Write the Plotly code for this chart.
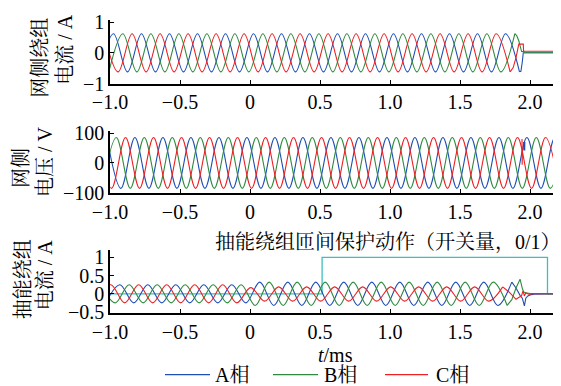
import plotly.graph_objects as go

# ---------------- data ----------------
x_tickvals = [-1.0, -0.5, 0, 0.5, 1.0, 1.5, 2.0]
x_ticktext = ["\u22121.0", "\u22120.5", "0", "0.5", "1.0", "1.5", "2.0"]

# Panel 1: grid-side winding current (A) - extrema of each phase
i1_A_t = [-1.075, -0.975, -0.875, -0.775, -0.675, -0.575, -0.475, -0.375, -0.275, -0.175, -0.075,
          0.025, 0.125, 0.225, 0.325, 0.425, 0.525, 0.625, 0.725, 0.825, 0.925, 1.025, 1.125,
          1.225, 1.325, 1.425, 1.525, 1.625, 1.725, 1.825, 1.925]
i1_A_v = [-0.62, 0.62, -0.62, 0.62, -0.62, 0.62, -0.62, 0.62, -0.62, 0.62, -0.62,
          0.62, -0.62, 0.62, -0.62, 0.62, -0.62, 0.62, -0.62, 0.62, -0.62, 0.62, -0.62,
          0.62, -0.62, 0.62, -0.62, 0.62, -0.62, 0.62, -0.62]
i1_B_t = [-1.008, -0.908, -0.808, -0.708, -0.608, -0.508, -0.408, -0.308, -0.208, -0.108, -0.008,
          0.092, 0.192, 0.292, 0.392, 0.492, 0.592, 0.692, 0.792, 0.892, 0.992, 1.092, 1.192,
          1.292, 1.392, 1.492, 1.592, 1.692, 1.792, 1.892]
i1_B_v = [-0.62, 0.62, -0.62, 0.62, -0.62, 0.62, -0.62, 0.62, -0.62, 0.62, -0.62,
          0.62, -0.62, 0.62, -0.62, 0.62, -0.62, 0.62, -0.62, 0.62, -0.62, 0.62, -0.62,
          0.62, -0.62, 0.62, -0.62, 0.62, -0.62, 0.62]
i1_C_t = [-1.042, -0.942, -0.842, -0.742, -0.642, -0.542, -0.442, -0.342, -0.242, -0.142, -0.042,
          0.058, 0.158, 0.258, 0.358, 0.458, 0.558, 0.658, 0.758, 0.858, 0.958, 1.058, 1.158,
          1.258, 1.358, 1.458, 1.558, 1.658, 1.758, 1.858]
i1_C_v = [0.62, -0.62, 0.62, -0.62, 0.62, -0.62, 0.62, -0.62, 0.62, -0.62, 0.62,
          -0.62, 0.62, -0.62, 0.62, -0.62, 0.62, -0.62, 0.62, -0.62, 0.62, -0.62, 0.62,
          -0.62, 0.62, -0.62, 0.62, -0.62, 0.62, -0.62]
# transient after the trip
i1_A_tr_t = [1.925, 1.935, 1.945, 1.952, 2.3]
i1_A_tr_v = [-0.62, -0.6, -0.3, 0.0, 0.0]
i1_B_tr_t = [1.892, 1.905, 1.92, 1.935, 1.94, 1.955, 1.96, 2.3]
i1_B_tr_v = [0.62, 0.56, 0.39, 0.1, 0.04, 0.04, 0.0, 0.0]
i1_C_tr_t = [1.858, 1.88, 1.9, 1.915, 1.92, 1.952, 1.954, 2.3]
i1_C_tr_v = [-0.62, -0.48, -0.16, 0.2, 0.28, 0.28, 0.05, 0.05]

# Panel 2: grid-side voltage (V)
u_A_t = [-1.022, -0.922, -0.822, -0.722, -0.622, -0.522, -0.422, -0.322, -0.222, -0.122, -0.022,
         0.078, 0.178, 0.278, 0.378, 0.478, 0.578, 0.678, 0.778, 0.878, 0.978, 1.078, 1.178,
         1.278, 1.378, 1.478, 1.578, 1.678, 1.778, 1.878, 1.978, 2.078, 2.178, 2.278]
u_A_v = [85, -85, 85, -85, 85, -85, 85, -85, 85, -85, 85,
         -85, 85, -85, 85, -85, 85, -85, 85, -85, 85, -85, 85,
         -85, 85, -85, 85, -85, 85, -85, 85, -85, 85, -85]
u_B_t = [-1.055, -0.955, -0.855, -0.755, -0.655, -0.555, -0.455, -0.355, -0.255, -0.155, -0.055,
         0.045, 0.145, 0.245, 0.345, 0.445, 0.545, 0.645, 0.745, 0.845, 0.945, 1.045, 1.145,
         1.245, 1.345, 1.445, 1.545, 1.645, 1.745, 1.845, 1.945, 2.045, 2.145, 2.245]
u_B_v = [-85, 85, -85, 85, -85, 85, -85, 85, -85, 85, -85,
         85, -85, 85, -85, 85, -85, 85, -85, 85, -85, 85, -85,
         85, -85, 85, -85, 85, -85, 85, -85, 85, -85, 85]
u_C_t = [-1.089, -0.989, -0.889, -0.789, -0.689, -0.589, -0.489, -0.389, -0.289, -0.189, -0.089,
         0.011, 0.111, 0.211, 0.311, 0.411, 0.511, 0.611, 0.711, 0.811, 0.911, 1.011, 1.111,
         1.211, 1.311, 1.411, 1.511, 1.611, 1.711, 1.811, 1.911, 2.011, 2.111, 2.211]
u_C_v = [85, -85, 85, -85, 85, -85, 85, -85, 85, -85, 85,
         -85, 85, -85, 85, -85, 85, -85, 85, -85, 85, -85, 85,
         -85, 85, -85, 85, -85, 85, -85, 85, -85, 85, -85]
# glitches at the trip instant
u_C_gl_t = [1.943, 1.944, 1.946]
u_C_gl_v = [80, -6, 40]
u_A_gl_t = [1.958, 1.959, 1.960]
u_A_gl_v = [70, 42, 70]

# Panel 3: energy-extraction winding current (A)
i3_A_t = [-1.03, -0.93, -0.83, -0.73, -0.63, -0.53, -0.43, -0.33, -0.23, -0.13, -0.03,
          0.07, 0.17, 0.27, 0.37, 0.47, 0.57, 0.67, 0.77, 0.87, 0.97, 1.07, 1.17,
          1.27, 1.37, 1.47, 1.57, 1.67, 1.77, 1.87]
i3_A_v = [-0.25, 0.25, -0.25, 0.25, -0.25, 0.25, -0.25, 0.25, -0.25, 0.25, -0.25,
          0.32, -0.32, 0.32, -0.32, 0.32, -0.32, 0.32, -0.32, 0.32, -0.32, 0.32, -0.32,
          0.32, -0.32, 0.32, -0.32, 0.32, -0.32, 0.32]
i3_B_t = [-1.063, -0.963, -0.863, -0.763, -0.663, -0.563, -0.463, -0.363, -0.263, -0.163, -0.063,
          0.037, 0.137, 0.237, 0.337, 0.437, 0.537, 0.637, 0.737, 0.837, 0.937, 1.037, 1.137,
          1.237, 1.337, 1.437, 1.537, 1.637, 1.737, 1.837]
i3_B_v = [0.25, -0.25, 0.25, -0.25, 0.25, -0.25, 0.25, -0.25, 0.25, -0.25, 0.25,
          -0.32, 0.32, -0.32, 0.32, -0.32, 0.32, -0.32, 0.32, -0.32, 0.32, -0.32, 0.32,
          -0.32, 0.32, -0.32, 0.32, -0.32, 0.32, -0.32]
i3_C_t = [-1.095, -0.995, -0.895, -0.795, -0.695, -0.595, -0.495, -0.395, -0.295, -0.195, -0.095,
          0.005, 0.105, 0.205, 0.305, 0.405, 0.505, 0.605, 0.705, 0.805, 0.905, 1.005, 1.105,
          1.205, 1.305, 1.405, 1.505, 1.605, 1.705, 1.805]
i3_C_v = [-0.25, 0.25, -0.25, 0.25, -0.25, 0.25, -0.25, 0.25, -0.25, 0.25, -0.25,
          0.17, -0.2, 0.19, -0.2, 0.19, -0.2, 0.19, -0.2, 0.19, -0.2, 0.19, -0.2,
          0.19, -0.2, 0.19, -0.2, 0.19, -0.2, 0.19]
i3_A_tr_t = [1.87, 1.9, 1.93, 1.945, 1.96, 1.97, 1.985, 2.0, 2.03, 2.3]
i3_A_tr_v = [0.32, 0.16, -0.05, -0.12, -0.33, -0.12, -0.06, -0.03, -0.01, 0.0]
i3_B_tr_t = [1.837, 1.87, 1.9, 1.929, 1.945, 1.955, 1.97, 2.0, 2.3]
i3_B_tr_v = [-0.32, -0.16, 0.16, 0.4, 0.15, 0.05, 0.03, 0.01, 0.0]
i3_C_tr_t = [1.805, 1.85, 1.9, 1.94, 1.95, 1.96, 1.97, 1.99, 2.02, 2.3]
i3_C_tr_v = [0.19, 0.05, -0.15, -0.05, 0.08, -0.06, 0.03, -0.01, 0.0, 0.0]

# protection action signal (0/1)
prot_t = [-1.05, 0.515, 0.515, 2.125, 2.125, 2.3]
prot_v = [0, 0, 1, 1, 0, 0]

phase_names = ["A相", "B相", "C相"]
# ---------------------------------------------------------------

C_A = "#1f4fb4"
C_B = "#2e8b3e"
C_R = "#ee2024"
C_P = "#3cbfc0"
FONT = "Liberation Serif, 'Noto Serif CJK SC', 'Noto Sans CJK SC', serif"
FS = 20

fig = go.Figure()


def add(xs, ys, color, ax, shape="spline", width=1.1):
    fig.add_trace(go.Scatter(x=xs, y=ys, mode="lines", showlegend=False,
                             line=dict(color=color, width=width, shape=shape),
                             xaxis=ax[0], yaxis=ax[1], hoverinfo="skip"))


ax1 = ("x", "y")
ax2 = ("x2", "y2")
ax3 = ("x3", "y3")

add(i1_A_t, i1_A_v, C_A, ax1)
add(i1_B_t, i1_B_v, C_B, ax1)
add(i1_C_t, i1_C_v, C_R, ax1)
add(i1_A_tr_t, i1_A_tr_v, C_A, ax1, "linear")
add(i1_B_tr_t, i1_B_tr_v, C_B, ax1, "linear")
add(i1_C_tr_t, i1_C_tr_v, C_R, ax1, "linear")

add(u_A_t, u_A_v, C_A, ax2)
add(u_B_t, u_B_v, C_B, ax2)
add(u_C_t, u_C_v, C_R, ax2)
add(u_C_gl_t, u_C_gl_v, C_R, ax2, "linear")
add(u_A_gl_t, u_A_gl_v, C_A, ax2, "linear", 2)

add(prot_t, prot_v, C_P, ax3, "linear", 1.3)
add(i3_A_t, i3_A_v, C_A, ax3)
add(i3_B_t, i3_B_v, C_B, ax3)
add(i3_C_t, i3_C_v, C_R, ax3)
add(i3_A_tr_t, i3_A_tr_v, C_A, ax3, "linear")
add(i3_B_tr_t, i3_B_tr_v, C_B, ax3, "linear")
add(i3_C_tr_t, i3_C_tr_v, C_R, ax3, "linear")

# page (screen) coordinates of the plot area; the page body has an 8 px margin
OFF = 8
PL, PR, PT, PB = 110, 558, 18, 313
W, H = 561 - OFF, 386 - OFF
PW, PH = PR - PL, PB - PT


def px(xp):
    return (xp - PL) / PW


def py(yp):
    return (PB - yp) / PH


common_x = dict(range=[-1.0, 2.2], tickvals=x_tickvals, ticktext=x_ticktext,
                ticks="inside", ticklen=4, tickwidth=1.3, tickcolor="black",
                showline=True, linecolor="black", linewidth=1.5,
                showgrid=False, zeroline=False, tickfont=dict(size=FS))
common_y = dict(ticks="inside", ticklen=4, tickwidth=1.3, tickcolor="black",
                showline=True, linecolor="black", linewidth=1.5,
                showgrid=False, zeroline=False, tickfont=dict(size=FS))

fig.update_layout(
    width=W, height=H,
    margin=dict(l=PL - OFF, r=W - (PR - OFF), t=PT - OFF, b=H - (PB - OFF)),
    paper_bgcolor="white", plot_bgcolor="white",
    font=dict(family=FONT, size=FS, color="black"),
    showlegend=False,
    xaxis=dict(common_x, anchor="y", domain=[0, 1]),
    xaxis2=dict(common_x, anchor="y2", domain=[0, 1]),
    xaxis3=dict(common_x, anchor="y3", domain=[0, 1]),
    yaxis=dict(common_y, anchor="x", domain=[py(82), py(18)], range=[-1, 1.065],
               tickvals=[-1, 0, 1], ticktext=["\u22121", "0", "1"]),
    yaxis2=dict(common_y, anchor="x2", domain=[py(192), py(130)], range=[-100, 106],
                tickvals=[-100, 0, 100], ticktext=["\u2212100", "0", "100"]),
    yaxis3=dict(common_y, anchor="x3", domain=[py(313), py(250)], range=[-0.527, 1.19],
                tickvals=[-0.5, 0, 0.5, 1], ticktext=["\u22120.5", "0", "0.5", "1"]),
)

ann = []


def label(text, xp, yp, angle=0, xanchor="center", size=FS):
    ann.append(dict(text=text, x=px(xp), y=py(yp), xref="paper", yref="paper",
                    showarrow=False, textangle=angle, xanchor=xanchor, yanchor="middle",
                    font=dict(size=size, family=FONT, color="black")))


label("网侧绕组", 40, 56, -90)
label("电流 / A", 65, 48, -90)
label("网侧", 21, 167, -90)
label("电压 / V", 45, 161, -90)
label("抽能绕组", 23, 279, -90)
label("电流 / A", 45, 275, -90)
label("抽能绕组匝间保护动作（开关量，0/1）", 388, 242, 0, size=20)
label("<i>t</i>/ms", 335, 355)

shapes = []
leg = [(165, 210, 213, C_A), (273, 318, 322, C_B), (385, 428, 434, C_R)]
for (x0, x1, xt, col), name in zip(leg, phase_names):
    shapes.append(dict(type="line", xref="paper", yref="paper", x0=px(x0), x1=px(x1),
                       y0=py(375), y1=py(375), line=dict(color=col, width=1.3)))
    label(name, xt, 375, 0, xanchor="left")

fig.update_layout(annotations=ann, shapes=shapes)
fig.write_html("out.html")
